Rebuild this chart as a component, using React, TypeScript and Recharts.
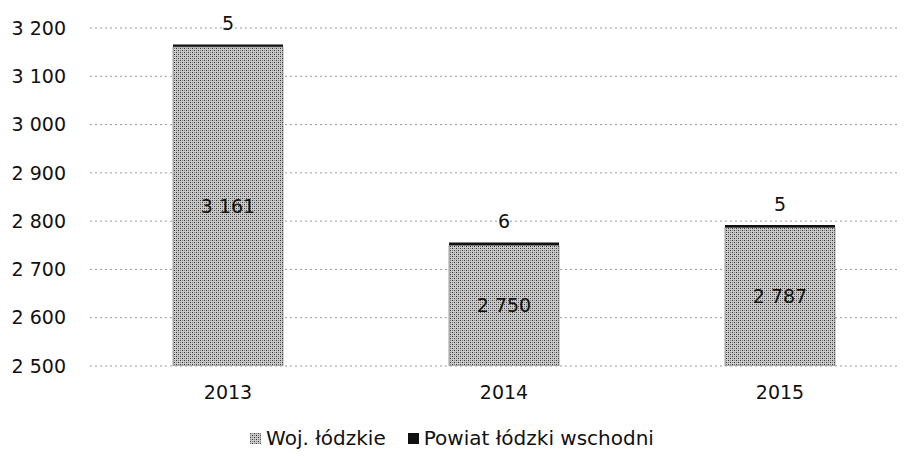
import React from 'react';
import { BarChart, Bar, XAxis, YAxis, CartesianGrid, LabelList, Legend } from 'recharts';

const years = ['2013', '2014', '2015'];
const wojValues = [3161, 2750, 2787];
const powiatValues = [5, 6, 5];
const yTicks = [2500, 2600, 2700, 2800, 2900, 3000, 3100, 3200];
const seriesNames = ['Woj. łódzkie', 'Powiat łódzki wschodni'];

const data = years.map((y, i) => ({ year: y, woj: wojValues[i], powiat: powiatValues[i] }));

const FONT = '"DejaVu Sans", sans-serif';
const fmt = (v: number) => String(v).replace(/\B(?=(\d{3})+(?!\d))/g, ' ');

const LegendContent = () => (
  <div style={{ display: 'flex', justifyContent: 'center', fontFamily: FONT, fontSize: 20, color: '#111', paddingRight: 22 }}>
    <div style={{ display: 'flex', alignItems: 'center', marginRight: 22 }}>
      <svg width={11} height={11} style={{ marginRight: 5 }}>
        <rect x={0} y={0} width={11} height={11} fill="url(#stipple)" stroke="#888" strokeWidth={0.5} />
      </svg>
      <span>{seriesNames[0]}</span>
    </div>
    <div style={{ display: 'flex', alignItems: 'center' }}>
      <svg width={11} height={11} style={{ marginRight: 5 }}>
        <rect x={0} y={0} width={11} height={11} fill="#111" />
      </svg>
      <span>{seriesNames[1]}</span>
    </div>
  </div>
);

export default function App() {
  return (
    <div style={{ width: 897, height: 450, overflow: 'hidden', background: '#fff' }}>
      <BarChart width={910} height={450} data={data} margin={{ top: 20, right: 0, bottom: 0, left: 0 }}>
        <defs>
          <pattern id="stipple" width="4" height="4" patternUnits="userSpaceOnUse">
            <rect x="0" y="0" width="4" height="4" fill="#cacaca" />
            <rect x="0" y="0" width="1" height="1" fill="#333" />
            <rect x="2" y="2" width="1" height="1" fill="#333" />
            <rect x="2" y="0" width="1" height="1" fill="#808080" />
            <rect x="0" y="2" width="1" height="1" fill="#808080" />
          </pattern>
        </defs>
        <CartesianGrid vertical={false} stroke="#9a9a9a" strokeDasharray="2 3" />
        <XAxis
          dataKey="year"
          axisLine={false}
          tickLine={false}
          tickSize={0}
          tickMargin={20}
          height={68}
          tick={{ fontFamily: FONT, fontSize: 19, fill: '#111' }}
        />
        <YAxis
          domain={[2500, 3200]}
          ticks={yTicks}
          allowDataOverflow
          axisLine={false}
          tickLine={false}
          tickSize={0}
          tickMargin={24}
          width={82}
          tickFormatter={fmt}
          tick={{ fontFamily: FONT, fontSize: 19, fill: '#111' }}
        />
        <Legend verticalAlign="bottom" content={<LegendContent />} wrapperStyle={{ bottom: 8 }} />
        <Bar dataKey="woj" stackId="a" barSize={110} fill="url(#stipple)" stroke="#666" strokeWidth={0.6} isAnimationActive={false}>
          <LabelList dataKey="woj" position="center" formatter={(v: any) => fmt(Number(v))} style={{ fontFamily: FONT, fontSize: 19, fill: '#111' }} />
        </Bar>
        <Bar dataKey="powiat" stackId="a" barSize={110} fill="#111" isAnimationActive={false}>
          <LabelList dataKey="powiat" position="top" offset={14} style={{ fontFamily: FONT, fontSize: 19, fill: '#111' }} />
        </Bar>
      </BarChart>
    </div>
  );
}
